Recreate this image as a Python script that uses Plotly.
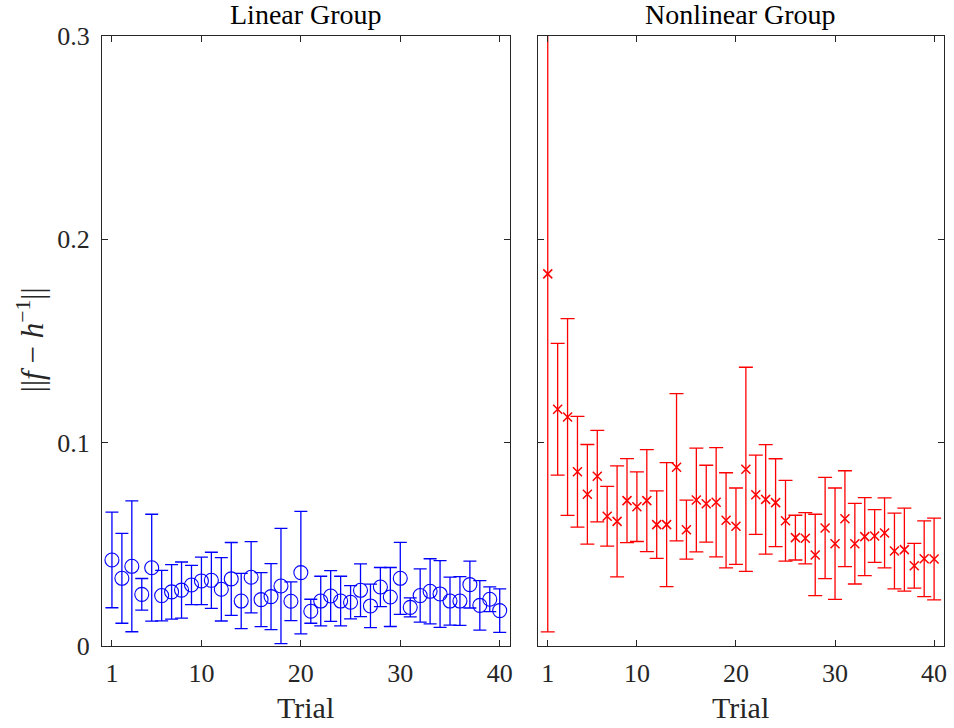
import plotly.graph_objects as go

# Trial numbers shared by both groups
trials = list(range(1, 41))

# Linear group: mean error per trial and its error-bar half-length
linear_mean = [0.0423, 0.0333, 0.0392, 0.0254, 0.0385, 0.0248, 0.0266, 0.0275, 0.0300, 0.0320,
               0.0323, 0.0279, 0.0330, 0.0221, 0.0338, 0.0228, 0.0243, 0.0295, 0.0220, 0.0361,
               0.0171, 0.0221, 0.0246, 0.0221, 0.0215, 0.0274, 0.0197, 0.0290, 0.0241, 0.0333,
               0.0190, 0.0248, 0.0269, 0.0256, 0.0221, 0.0221, 0.0302, 0.0200, 0.0230, 0.0174]
linear_err = [0.0235, 0.0221, 0.0322, 0.0078, 0.0263, 0.0124, 0.0134, 0.0138, 0.0097, 0.0117,
              0.0138, 0.0156, 0.0179, 0.0136, 0.0175, 0.0133, 0.0162, 0.0283, 0.0095, 0.0301,
              0.0059, 0.0122, 0.0125, 0.0122, 0.0082, 0.0130, 0.0107, 0.0096, 0.0145, 0.0177,
              0.0047, 0.0131, 0.0160, 0.0164, 0.0118, 0.0120, 0.0115, 0.0122, 0.0061, 0.0107]

# Nonlinear group: mean error per trial and its error-bar half-length
nonlinear_mean = [0.1830, 0.1164, 0.1126, 0.0857, 0.0746, 0.0835, 0.0638, 0.0613, 0.0715, 0.0685,
                  0.0715, 0.0597, 0.0597, 0.0879, 0.0572, 0.0718, 0.0700, 0.0707, 0.0618, 0.0589,
                  0.0869, 0.0744, 0.0721, 0.0705, 0.0616, 0.0533, 0.0530, 0.0448, 0.0580, 0.0503,
                  0.0626, 0.0503, 0.0538, 0.0541, 0.0556, 0.0467, 0.0474, 0.0395, 0.0429, 0.0428]
nonlinear_err = [0.1761, 0.0324, 0.0484, 0.0272, 0.0245, 0.0225, 0.0147, 0.0273, 0.0207, 0.0171,
                 0.0251, 0.0166, 0.0305, 0.0362, 0.0145, 0.0255, 0.0189, 0.0269, 0.0234, 0.0188,
                 0.0502, 0.0195, 0.0269, 0.0216, 0.0199, 0.0110, 0.0126, 0.0200, 0.0249, 0.0274,
                 0.0236, 0.0198, 0.0192, 0.0130, 0.0172, 0.0186, 0.0204, 0.0110, 0.0186, 0.0201]

x_ticks = [1, 10, 20, 30, 40]
y_ticks = [0, 0.1, 0.2, 0.3]
y_tick_text = ["0", "0.1", "0.2", "0.3"]

W, H = 954, 728
FONT = "Liberation Serif, Times New Roman, DejaVu Serif, serif"
AX = "#262626"

# Plot-area box in pixels (both panels share the same vertical extent)
L, R, T, B = 101.7, 944.0, 36.0, 646.0
PW, PH = R - L, B - T


def px_x(x):
    return (x - L) / PW


def px_y(y):
    return (B - y) / PH


fig = go.Figure()

fig.add_trace(go.Scatter(
    x=trials, y=linear_mean, mode="markers", xaxis="x", yaxis="y",
    marker=dict(symbol="circle-open", size=14, color="#0000ff", line=dict(width=1.1, color="#0000ff")),
    error_y=dict(type="data", array=linear_err, visible=True, color="#0000ff", thickness=1.3, width=6.5),
    showlegend=False,
))

fig.add_trace(go.Scatter(
    x=trials, y=nonlinear_mean, mode="markers", xaxis="x2", yaxis="y2",
    marker=dict(symbol="x-thin", size=9, color="#ff0000", line=dict(width=1.5, color="#ff0000")),
    error_y=dict(type="data", array=nonlinear_err, visible=True, color="#ff0000", thickness=1.3, width=7),
    showlegend=False,
))

left_dom = [px_x(101.7), px_x(509.5)]
right_dom = [px_x(537.7), px_x(944.0)]

common_x = dict(
    range=[0, 41], tickmode="array", tickvals=x_ticks, ticks="inside", ticklen=6,
    tickcolor=AX, showline=True, linecolor=AX, linewidth=1, mirror="allticks",
    showgrid=False, zeroline=False, tickfont=dict(family=FONT, size=26, color=AX),
    ticklabelstandoff=4,
)
common_y = dict(
    range=[0, 0.3], tickmode="array", tickvals=y_ticks, ticktext=y_tick_text,
    ticks="inside", ticklen=6, tickcolor=AX, showline=True, linecolor=AX, linewidth=1,
    mirror="allticks", showgrid=False, zeroline=False,
)

fig.update_layout(
    width=W, height=H, autosize=False,
    margin=dict(l=L, r=W - R, t=T, b=H - B, pad=0, autoexpand=False),
    paper_bgcolor="white", plot_bgcolor="white",
    font=dict(family=FONT),
    xaxis=dict(domain=left_dom, anchor="y", **common_x),
    yaxis=dict(domain=[0, 1], anchor="x", tickfont=dict(family=FONT, size=26, color=AX),
               ticklabelstandoff=6, **common_y),
    xaxis2=dict(domain=right_dom, anchor="y2", **common_x),
    yaxis2=dict(domain=[0, 1], anchor="x2", showticklabels=False, **common_y),
)

titles = [("Linear Group", sum(left_dom) / 2), ("Nonlinear Group", sum(right_dom) / 2)]
for text, xc in titles:
    fig.add_annotation(text=text, x=xc, y=px_y(14), xref="paper", yref="paper",
                       xanchor="center", yanchor="middle", showarrow=False,
                       font=dict(family=FONT, size=28, color="#000000"))
    fig.add_annotation(text="Trial", x=xc, y=px_y(707), xref="paper", yref="paper",
                       xanchor="center", yanchor="middle", showarrow=False,
                       font=dict(family=FONT, size=30, color=AX))

fig.add_annotation(
    text="||<i>f</i> − <i>h</i><sup>−1</sup>||", x=px_x(30), y=px_y(340),
    xref="paper", yref="paper", xanchor="center", yanchor="middle", textangle=-90,
    showarrow=False, font=dict(family=FONT, size=31, color=AX),
)

fig.write_html("out.html")
